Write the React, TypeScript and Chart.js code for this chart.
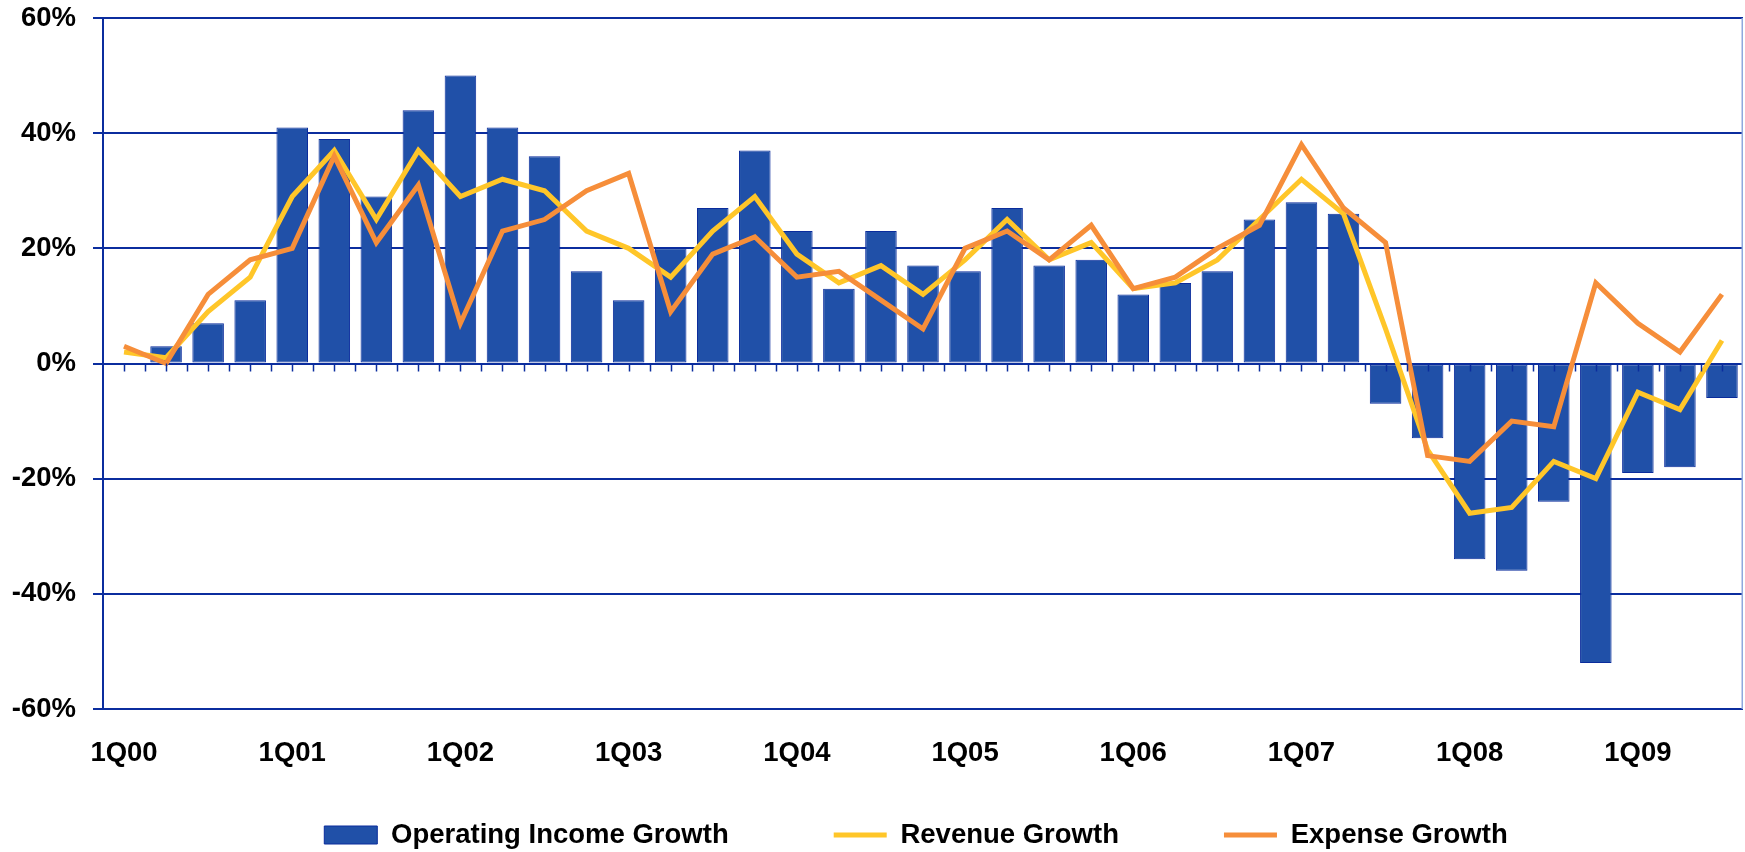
import React, { useEffect, useRef } from 'react';
import { Chart, registerables } from 'chart.js';

Chart.register(...registerables);

const quarters = [
  '1Q00', '2Q00', '3Q00', '4Q00',
  '1Q01', '2Q01', '3Q01', '4Q01',
  '1Q02', '2Q02', '3Q02', '4Q02',
  '1Q03', '2Q03', '3Q03', '4Q03',
  '1Q04', '2Q04', '3Q04', '4Q04',
  '1Q05', '2Q05', '3Q05', '4Q05',
  '1Q06', '2Q06', '3Q06', '4Q06',
  '1Q07', '2Q07', '3Q07', '4Q07',
  '1Q08', '2Q08', '3Q08', '4Q08',
  '1Q09', '2Q09', '3Q09',
];

const xTickLabels = ['1Q00', '1Q01', '1Q02', '1Q03', '1Q04', '1Q05', '1Q06', '1Q07', '1Q08', '1Q09'];

const operatingIncomeGrowth = [
  0, 3, 7, 11,
  41, 39, 29, 44,
  50, 41, 36, 16,
  11, 20, 27, 37,
  23, 13, 23, 17,
  16, 27, 17, 18,
  12, 14, 16, 25,
  28, 26, -7, -13,
  -34, -36, -24, -52,
  -19, -18, -6,
];

const revenueGrowth = [
  2, 1, 9, 15,
  29, 37, 25, 37,
  29, 32, 30, 23,
  20, 15, 23, 29,
  19, 14, 17, 12,
  18, 25, 18, 21,
  13, 14, 18, 25,
  32, 26, 6, -15,
  -26, -25, -17, -20,
  -5, -8, 4,
];

const expenseGrowth = [
  3, 0, 12, 18,
  20, 36, 21, 31,
  7, 23, 25, 30,
  33, 9, 19, 22,
  15, 16, 11, 6,
  20, 23, 18, 24,
  13, 15, 20, 24,
  38, 27, 21, -16,
  -17, -10, -11, 14,
  7, 2, 12,
];

const yMin = -60;
const yMax = 60;
const yStep = 20;

const FONT = '"Liberation Sans", Arial, Helvetica, sans-serif';
const GRID = '#0B2D9E';
const BAR_FILL = '#2050A8';
const BAR_BORDER = '#0A2C9C';
const YELLOW = '#FFC629';
const ORANGE = '#F68E3A';

export default function App() {
  const ref = useRef<HTMLCanvasElement>(null);

  useEffect(() => {
    const canvas = ref.current;
    if (!canvas) return;

    const LEGEND_FONT = 27.5;
    const LEGEND_PAD = 105;
    const LEGEND_H = 63;
    const XAXIS_H = 80;
    const LEGEND_TEXT_Y = 835;
    const LEGEND_LEFT = 89;

    const legendFit = {
      id: 'legendFit',
      beforeInit(chart: any) {
        const legend = chart.legend;
        if (!legend) return;
        const orig = legend.fit;
        legend.fit = function () {
          orig.call(this);
          this.height = LEGEND_H;
        };
      },
      afterLayout(chart: any) {
        const legend = chart.legend;
        if (!legend) return;
        legend.top = LEGEND_TEXT_Y - LEGEND_PAD - LEGEND_FONT / 2;
        legend.bottom = chart.height;
        legend.height = legend.bottom - legend.top;
        legend.left = LEGEND_LEFT;
        legend.width = legend.right - legend.left;
      },
    };

    const zeroTicks = {
      id: 'zeroTicks',
      afterDatasetsDraw(chart: any) {
        const { ctx, chartArea } = chart;
        const xs = chart.scales.x;
        const ys = chart.scales.y;
        const y0 = ys.getPixelForValue(0);
        const half = (xs.getPixelForValue(1) - xs.getPixelForValue(0)) / 2;
        ctx.save();
        ctx.strokeStyle = GRID;
        ctx.lineWidth = 1.5;
        for (let i = 0; i < quarters.length; i++) {
          const c = xs.getPixelForValue(i);
          for (const px of [c, c + half]) {
            if (px >= chartArea.right - 2) continue;
            const p = Math.round(px) + 0.5;
            ctx.beginPath();
            ctx.moveTo(p, y0);
            ctx.lineTo(p, y0 + 8);
            ctx.stroke();
          }
        }
        ctx.restore();
      },
      afterDraw(chart: any) {
        const { ctx, chartArea } = chart;
        ctx.save();
        ctx.strokeStyle = '#8FA8DE';
        ctx.lineWidth = 1.5;
        ctx.beginPath();
        ctx.moveTo(chartArea.right - 0.75, chartArea.top);
        ctx.lineTo(chartArea.right - 0.75, chartArea.bottom);
        ctx.stroke();
        ctx.restore();
      },
    };

    const chart = new Chart(canvas, {
      type: 'bar',
      data: {
        labels: quarters,
        datasets: [
          {
            type: 'bar',
            label: 'Operating Income Growth',
            data: operatingIncomeGrowth,
            backgroundColor: BAR_FILL,
            borderColor: BAR_BORDER,
            borderWidth: 1,
            borderSkipped: false,
            barPercentage: 0.75,
            categoryPercentage: 1,
            order: 3,
          } as any,
          {
            type: 'line',
            label: 'Revenue Growth',
            data: revenueGrowth,
            borderColor: YELLOW,
            backgroundColor: YELLOW,
            borderWidth: 5,
            pointRadius: 0,
            pointHoverRadius: 0,
            tension: 0,
            fill: false,
            borderJoinStyle: 'miter',
            order: 2,
          } as any,
          {
            type: 'line',
            label: 'Expense Growth',
            data: expenseGrowth,
            borderColor: ORANGE,
            backgroundColor: ORANGE,
            borderWidth: 5,
            pointRadius: 0,
            pointHoverRadius: 0,
            tension: 0,
            fill: false,
            borderJoinStyle: 'miter',
            order: 1,
          } as any,
        ],
      },
      options: {
        responsive: false,
        animation: false,
        events: [],
        layout: { padding: { left: 0, right: 2, top: 18, bottom: 0 } },
        scales: {
          x: {
            type: 'category',
            offset: true,
            grid: { display: false, drawTicks: false, offset: true },
            border: { display: false },
            ticks: {
              autoSkip: false,
              maxRotation: 0,
              minRotation: 0,
              padding: 28,
              color: '#000',
              font: { family: FONT, size: 27.5, weight: 'bold' },
              callback: (_v: any, i: number) => (xTickLabels.includes(quarters[i]) ? quarters[i] : ''),
            },
            afterFit: (s: any) => {
              s.height = XAXIS_H;
              s.paddingLeft = 0;
              s.paddingRight = 0;
            },
          },
          y: {
            min: yMin,
            max: yMax,
            grid: { color: GRID, lineWidth: 2, tickLength: 10, drawTicks: true, tickColor: GRID, tickWidth: 2 },
            border: { display: true, color: GRID, width: 2 },
            ticks: {
              stepSize: yStep,
              padding: 17,
              color: '#000',
              font: { family: FONT, size: 27.5, weight: 'bold' },
              callback: (v: any) => `${v}%`,
            },
            afterFit: (s: any) => {
              s.width = 103;
              s.paddingTop = 0;
              s.paddingBottom = 0;
            },
          },
        },
        plugins: {
          tooltip: { enabled: false },
          legend: {
            display: true,
            position: 'bottom',
            align: 'center',
            labels: {
              usePointStyle: true,
              pointStyleWidth: 53,
              boxHeight: 18,
              padding: LEGEND_PAD,
              color: '#000',
              font: { family: FONT, size: LEGEND_FONT, weight: 'bold' },
              sort: (a: any, b: any) => a.datasetIndex - b.datasetIndex,
              generateLabels: (ch: any) => {
                const items = (Chart.defaults.plugins.legend.labels as any).generateLabels(ch);
                return items.map((it: any) => {
                  const ds: any = ch.data.datasets[it.datasetIndex];
                  const isBar = ds.type === 'bar';
                  return {
                    ...it,
                    pointStyle: isBar ? 'rect' : 'line',
                    lineWidth: isBar ? 1 : 5,
                    fillStyle: isBar ? ds.backgroundColor : ds.borderColor,
                    strokeStyle: ds.borderColor,
                  };
                });
              },
            },
          },
        },
      },
      plugins: [legendFit, zeroTicks],
    } as any);

    return () => chart.destroy();
  }, []);

  return (
    <div style={{ position: 'fixed', left: 0, top: 0, width: 1745, height: 852, background: '#fff' }}>
      <canvas ref={ref} width={1745} height={852} style={{ display: 'block' }} />
    </div>
  );
}
